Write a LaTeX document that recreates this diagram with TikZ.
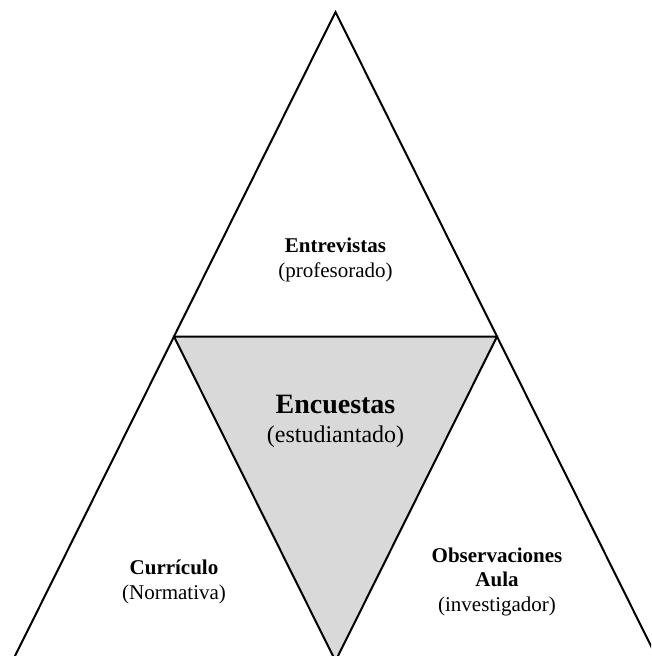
\documentclass[tikz,border=0pt]{standalone}
\usepackage{fontspec}
\setmainfont{Liberation Serif}
\begin{document}
\begin{tikzpicture}[x=1pt,y=-1pt,
  edge/.style={line width=2pt, line join=miter},
  % base anchor of a multi-line node sits on its last line
  label/.style={align=center, inner sep=0pt, anchor=base,
    font=\fontsize{21}{24.5}\selectfont},
  biglabel/.style={align=center, inner sep=0pt, anchor=base}]
  \useasboundingbox (0,0) rectangle (651,656);
  \clip (0,0) rectangle (651,656);

  % corners of the big triangle and midpoints of its sides
  \coordinate (apex)  at (335.5,12);
  \coordinate (bl)    at (12.5,661);
  \coordinate (br)    at (658.5,661);
  \coordinate (ml)    at (174,336.5);
  \coordinate (mr)    at (497,336.5);
  \coordinate (mb)    at (335.5,661);

  % shaded inner triangle
  \fill[fill={rgb,255:red,217;green,217;blue,217}] (ml) -- (mr) -- (mb) -- cycle;
  \draw[edge] (ml) -- (mr) -- (mb) -- cycle;
  % outer triangle
  \draw[edge] (apex) -- (br) -- (bl) -- cycle;

  % labels
  \node[label] (entrevistas) at (335.5,277)
    {\textbf{Entrevistas}\\(profesorado)};
  \node[biglabel] (encuestas) at (335.5,413)
    {\fontsize{28}{28}\selectfont\textbf{Encuestas}};
  \node[biglabel] (estudiantado) at (335.5,442)
    {\fontsize{24}{24}\selectfont(estudiantado)};
  \node[label] (curriculo) at (174,599)
    {\textbf{Currículo}\\(Normativa)};
  \node[label] (observaciones) at (497,611)
    {\textbf{Observaciones}\\\textbf{Aula}\\(investigador)};
\end{tikzpicture}
\end{document}
